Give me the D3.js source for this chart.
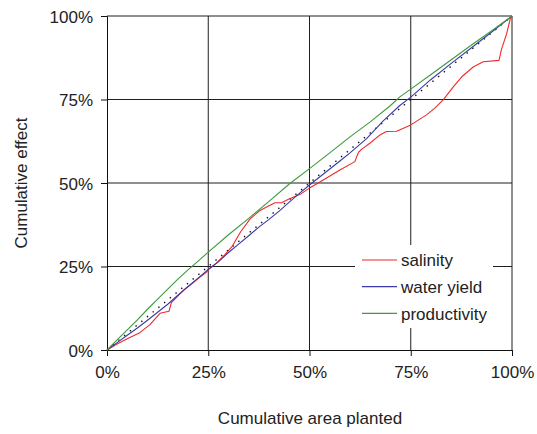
<!DOCTYPE html>
<html>
<head>
<meta charset="utf-8">
<script src="https://cdn.jsdelivr.net/npm/d3@7"></script>
<style>
  html, body { margin: 0; padding: 0; background: #fff; }
  svg { display: block; font-family: "Liberation Sans", Arial, sans-serif; }
</style>
</head>
<body>
<svg id="chart" width="537" height="434"></svg>
<script>
// Cumulative effect (%) against cumulative area planted (%), one [area, effect] pair per point
const salinity = [
  [0,0],[2.5,1.8],[5,3.4],[8.1,5.2],[10.6,7.6],[13.1,11],[15.3,11.6],[15.9,14.2],[18.8,17.8],
  [20,18.9],[22.5,21.4],[24.6,23.3],[25,24.1],[27,26],[29,28.4],[31,31.2],[33,35.4],[35.3,39.2],
  [37.8,41.8],[40,43.2],[41.5,44.1],[43.1,44.1],[44.8,45.1],[47.7,46.6],[49.9,48.4],[53.4,50.9],
  [57.5,53.9],[61.2,56.4],[62.1,59.2],[63,60.2],[64.9,61.9],[67.4,64.4],[69,65.4],
  [71.5,65.5],[73.2,66.4],[75,67.4],[78.9,70.4],[81,72.5],[83,74.9],[85.5,78.8],
  [87.6,81.8],[90.5,84.8],[92.9,86.3],[96.8,86.7],[97.4,90],[98.7,94.8],[99.6,99.3],[100,100]
];
const waterYield = [
  [0,0],[2.5,2.2],[5,4.4],[7.5,6.6],[10,8.9],[12.5,11.3],[15,13.7],[17.5,16.4],[20,19],
  [22.5,21.5],[25,24.1],[27.5,26.4],[30,29.2],[32.5,31.7],[35,34.2],[37.5,36.8],[40,39.1],
  [42.5,41.6],[45,44.3],[47.5,46.9],[50,49.4],[55,54.2],[57.5,56.6],[60,59],[64.1,63.3],[68.2,68.6],
  [72.3,73.2],[75,75.7],[80,81],[85,85.8],[90,90.5],[95,95.2],[100,100]
];
const productivity = [
  [0,0],[2.5,3],[5,6],[7.5,9],[10,12.2],[12.5,15.2],[15,18.2],[17.5,21.2],[20,24],
  [22.5,26.6],[25,29.3],[30,34.5],[35,39.4],[40,44.5],[45,49.7],[50,54.3],[55,59],[60,63.8],
  [65,68.3],[70,73.2],[72.3,75.8],[75,78.1],[80,82.5],[85,86.9],[90,91.3],[95,95.6],[100,100]
];
const equality = [[0,0],[100,100]];

const seriesNames = ["salinity", "water yield", "productivity"];
const seriesColors = ["#ee2a2a", "#3a3aa8", "#3c9a3c"];
const tickValues = [0, 25, 50, 75, 100];

const svg = d3.select("#chart");
const x = d3.scaleLinear().domain([0, 100]).range([107, 512]);
const y = d3.scaleLinear().domain([0, 100]).range([350, 16]);
const fmt = d => d + "%";

// grid lines (including the top and right frame)
const grid = svg.append("g").attr("stroke", "#1e1e1e").attr("stroke-width", 1);
grid.selectAll("line.v").data(tickValues.slice(1)).join("line")
  .attr("x1", d => x(d)).attr("x2", d => x(d))
  .attr("y1", y(0)).attr("y2", y(100));
grid.selectAll("line.h").data(tickValues.slice(1)).join("line")
  .attr("x1", x(0)).attr("x2", x(100))
  .attr("y1", d => y(d)).attr("y2", d => y(d));

// axes
const xAxis = d3.axisBottom(x).tickValues(tickValues).tickFormat(fmt).tickSize(6).tickPadding(10);
const yAxis = d3.axisLeft(y).tickValues(tickValues).tickFormat(fmt).tickSize(6).tickPadding(8);
const gx = svg.append("g").attr("transform", `translate(0,${y(0)})`).call(xAxis);
const gy = svg.append("g").attr("transform", `translate(${x(0)},0)`).call(yAxis);
[gx, gy].forEach(g => {
  g.select(".domain").attr("stroke", "#111");
  g.selectAll(".tick line").attr("stroke", "#111");
  g.selectAll(".tick text").attr("fill", "#222").attr("font-size", 17)
    .attr("font-family", "Liberation Sans, Arial, sans-serif");
});
gy.selectAll(".tick text").attr("dy", "0.36em");
gx.selectAll(".tick text").attr("dy", "0.71em");

const line = d3.line().x(d => x(d[0])).y(d => y(d[1]));

// line of equality
svg.append("path").datum(equality).attr("d", line)
  .attr("fill", "none").attr("stroke", "#111").attr("stroke-width", 1.4)
  .attr("stroke-dasharray", "1.4,6");

// series
[salinity, waterYield, productivity].forEach((data, i) => {
  svg.append("path").datum(data).attr("d", line)
    .attr("fill", "none").attr("stroke", seriesColors[i]).attr("stroke-width", 1.1)
    .attr("stroke-linejoin", "round");
});

// legend
const legend = svg.append("g");
legend.append("rect").attr("x", 355).attr("y", 245).attr("width", 138).attr("height", 83).attr("fill", "#fff");
seriesNames.forEach((name, i) => {
  const ly = 260 + i * 26.7;
  legend.append("line").attr("x1", 362).attr("x2", 397).attr("y1", ly).attr("y2", ly)
    .attr("stroke", seriesColors[i]).attr("stroke-width", 1.2);
  legend.append("text").attr("x", 401).attr("y", ly + 6.3).text(name)
    .attr("font-size", 17).attr("fill", "#222");
});

// axis titles
svg.append("text").attr("x", 310).attr("y", 424).attr("text-anchor", "middle")
  .attr("font-size", 17).attr("fill", "#222").text("Cumulative area planted");
svg.append("text").attr("transform", "translate(27,183) rotate(-90)").attr("text-anchor", "middle")
  .attr("font-size", 17).attr("fill", "#222").text("Cumulative effect");
</script>
</body>
</html>
